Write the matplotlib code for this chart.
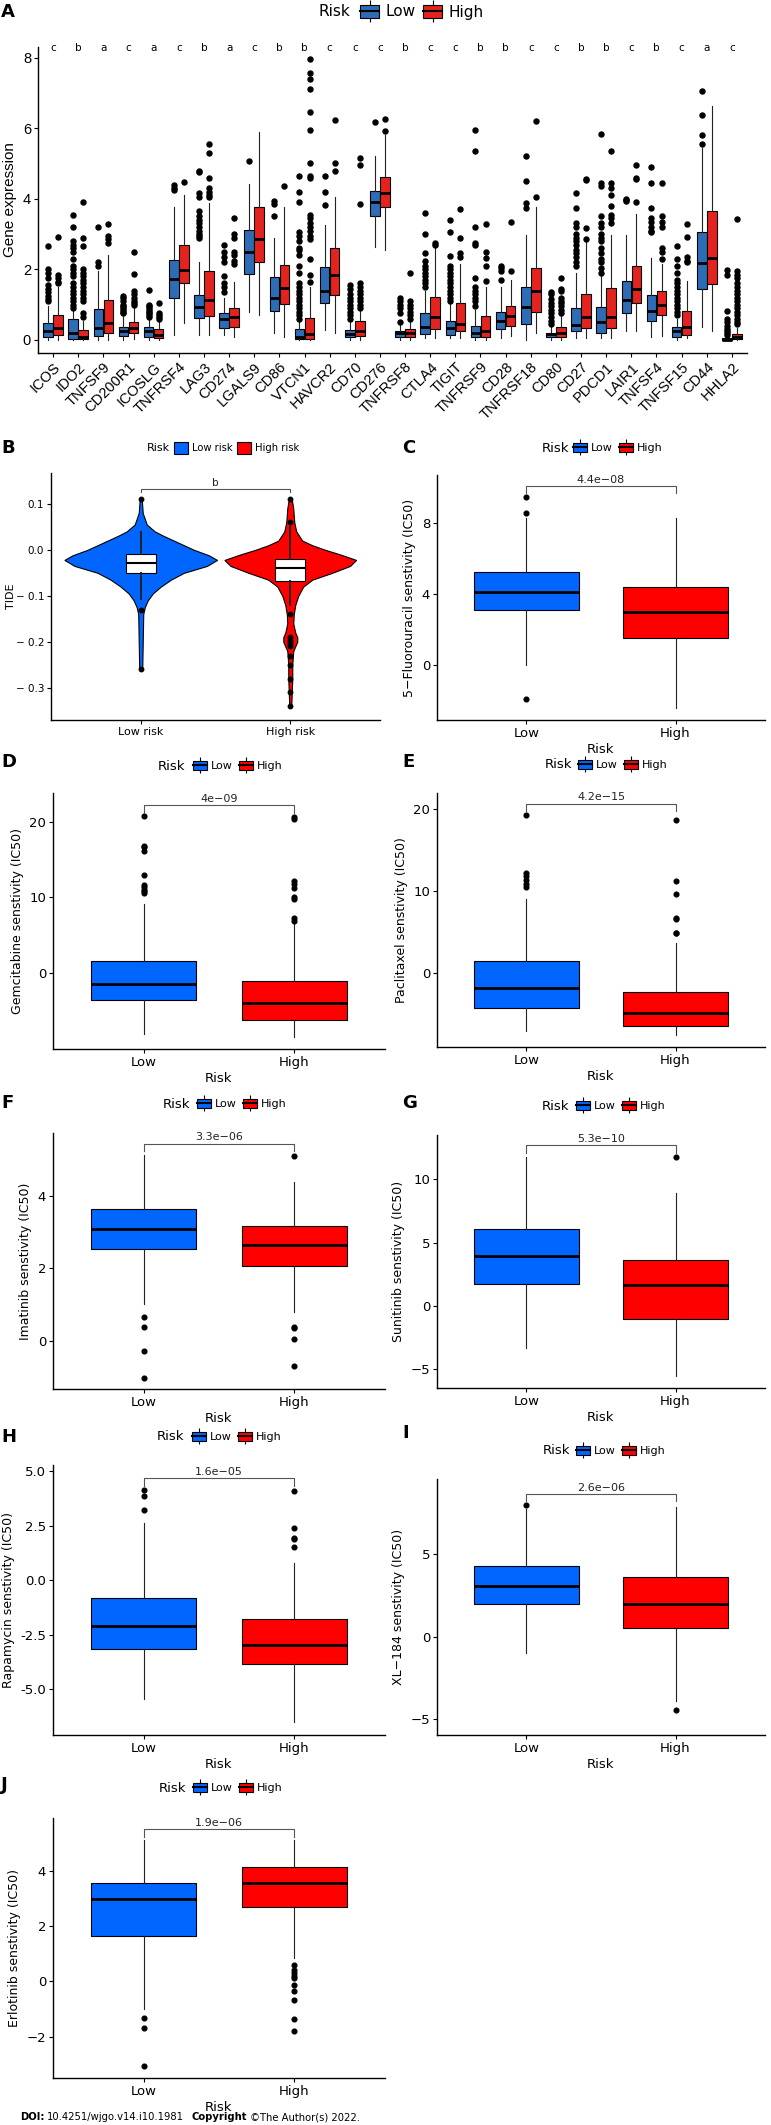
import matplotlib
matplotlib.use("Agg")
import matplotlib.pyplot as plt
from matplotlib.patches import Patch
from matplotlib.lines import Line2D
from matplotlib.text import Annotation
import matplotlib.transforms as mtransforms

plt.rcParams['font.family'] = ['DejaVu Sans']

W, H = 771, 2125

# ---------------- panel A: checkpoint gene expression ----------------
genes = ['ICOS', 'IDO2', 'TNFSF9', 'CD200R1', 'ICOSLG', 'TNFRSF4', 'LAG3', 'CD274',
         'LGALS9', 'CD86', 'VTCN1', 'HAVCR2', 'CD70', 'CD276', 'TNFRSF8', 'CTLA4',
         'TIGIT', 'TNFRSF9', 'CD28', 'TNFRSF18', 'CD80', 'CD27', 'PDCD1', 'LAIR1',
         'TNFSF4', 'TNFSF15', 'CD44', 'HHLA2']
sig_letters = ['c', 'b', 'a', 'c', 'a', 'c', 'b', 'a', 'c', 'b', 'b', 'c', 'c', 'c',
               'b', 'c', 'c', 'b', 'b', 'c', 'c', 'b', 'b', 'c', 'b', 'c', 'a', 'c']

# [lower whisker, q1, median, q3, upper whisker]
a_low = [
    [0, 0.08, 0.24, 0.48, 0.95], [0, 0.02, 0.19, 0.59, 0.85], [0, 0.11, 0.33, 0.87, 1.95],
    [0, 0.11, 0.24, 0.38, 0.7], [0, 0.08, 0.24, 0.38, 0.6], [0.14, 1.2, 1.72, 2.27, 3.78],
    [0.14, 0.61, 0.94, 1.27, 2.22], [0.14, 0.33, 0.59, 0.76, 1.2], [0.8, 1.86, 2.48, 3.12, 4.41],
    [0.21, 0.83, 1.2, 1.77, 2.9], [0, 0.02, 0.08, 0.3, 0.55], [0.28, 1.04, 1.4, 2.08, 3.26],
    [0, 0.08, 0.17, 0.28, 0.5], [2.64, 3.52, 3.9, 4.23, 5.21], [0, 0.08, 0.19, 0.24, 0.45],
    [0.05, 0.17, 0.38, 0.76, 1.4], [0.05, 0.14, 0.33, 0.54, 1.05], [0, 0.08, 0.19, 0.4, 0.85],
    [0.05, 0.3, 0.55, 0.8, 1.49], [0, 0.45, 0.94, 1.51, 2.97], [0, 0.08, 0.16, 0.21, 0.4],
    [0.05, 0.24, 0.42, 0.9, 1.89], [0.05, 0.21, 0.52, 0.93, 1.8], [0.26, 0.77, 1.13, 1.67, 2.97],
    [0.09, 0.54, 0.83, 1.27, 2.33], [0, 0.08, 0.24, 0.38, 0.6], [0.36, 1.44, 2.17, 3.07, 5.43],
    [0, 0, 0.01, 0.05, 0.1]]
a_high = [
    [0, 0.14, 0.35, 0.72, 1.5], [0, 0.02, 0.09, 0.28, 0.55], [0, 0.21, 0.47, 1.13, 2.4],
    [0.02, 0.21, 0.33, 0.5, 0.9], [0, 0.05, 0.14, 0.3, 0.55], [0.47, 1.62, 1.98, 2.69, 4.11],
    [0.14, 0.68, 1.13, 1.96, 3.87], [0.09, 0.38, 0.66, 0.9, 1.63], [0.7, 2.22, 2.86, 3.78, 5.88],
    [0.09, 1.02, 1.46, 2.12, 3.76], [0, 0.02, 0.17, 0.63, 1.5], [0.2, 1.27, 1.84, 2.6, 4.04],
    [0, 0.11, 0.26, 0.55, 0.85], [2.55, 3.76, 4.15, 4.61, 5.81], [0, 0.09, 0.21, 0.31, 0.5],
    [0.05, 0.3, 0.66, 1.23, 2.6], [0.05, 0.24, 0.44, 1.04, 2.15], [0, 0.09, 0.26, 0.68, 1.49],
    [0.1, 0.4, 0.69, 0.96, 1.7], [0.19, 0.78, 1.4, 2.03, 3.76], [0, 0.09, 0.21, 0.36, 0.7],
    [0.05, 0.33, 0.66, 1.3, 2.83], [0.05, 0.33, 0.66, 1.46, 2.97], [0.24, 1.04, 1.44, 2.1, 3.56],
    [0.1, 0.71, 0.99, 1.4, 2.15], [0.05, 0.14, 0.38, 0.83, 1.67], [0.24, 1.58, 2.33, 3.64, 6.64],
    [0, 0.02, 0.09, 0.17, 0.35]]
a_low_out = [
    [1.1, 1.15, 1.25, 1.35, 1.45, 1.55, 1.75, 1.9, 2.0, 2.65],
    [0.9, 1.0, 1.1, 1.2, 1.3, 1.4, 1.5, 1.6, 1.8, 1.9, 2.0, 2.1, 2.3, 2.5, 2.6, 2.7, 2.8, 3.2, 3.55],
    [2.1, 2.2, 3.2],
    [0.75, 0.8, 0.85, 0.9, 0.95, 1.0, 1.1, 1.2, 1.25],
    [0.65, 0.7, 0.75, 0.8, 0.85, 0.9, 0.95, 1.0, 1.42],
    [4.25, 4.3, 4.4],
    [2.9, 2.95, 3.0, 3.1, 3.2, 3.3, 3.4, 3.5, 3.65, 4.05, 4.15, 4.75, 4.8],
    [1.35, 1.5, 1.6, 1.8, 2.2, 2.35, 2.5, 2.7],
    [5.07],
    [3.5, 3.85, 3.95],
    [0.6, 0.7, 0.8, 0.9, 1.0, 1.1, 1.2, 1.3, 1.4, 1.5, 1.6, 1.9, 2.1, 2.4, 2.55, 2.6, 2.8, 2.95,
     3.05, 3.9, 4.2, 4.65],
    [3.82, 4.2, 4.65],
    [0.6, 0.7, 0.8, 0.9, 1.0, 1.1, 1.2, 1.3, 1.45, 1.55],
    [6.17],
    [0.52, 0.76, 0.9, 1.0, 1.1, 1.18],
    [1.5, 1.6, 1.7, 1.8, 1.9, 2.0, 2.1, 2.25, 2.45, 3.0, 3.6],
    [1.1, 1.2, 1.3, 1.4, 1.5, 1.6, 1.7, 1.8, 1.9, 2.0, 2.1, 2.38, 3.05, 3.4],
    [0.97, 1.1, 1.2, 1.3, 1.4, 1.5, 1.75, 2.7, 2.74, 3.21, 5.35, 5.95],
    [1.7, 1.95, 2.05, 2.1],
    [3.73, 3.89, 4.5, 5.22],
    [0.45, 0.55, 0.65, 0.75, 0.85, 0.95, 1.05, 1.15, 1.3, 1.37],
    [2.1, 2.2, 2.35, 2.45, 2.55, 2.7, 2.8, 2.9, 3.0, 3.2, 3.3, 3.75, 4.15],
    [1.9, 2.05, 2.2, 2.3, 2.45, 2.6, 2.8, 2.9, 3.0, 3.2, 3.3, 3.5, 4.35, 4.46, 5.84],
    [3.95, 3.97, 4.0],
    [3.05, 3.1, 3.2, 3.35, 3.45, 3.75, 4.44, 4.91],
    [0.7, 0.8, 0.9, 1.0, 1.1, 1.2, 1.3, 1.4, 1.5, 1.6, 1.7, 1.9, 2.1, 2.3, 2.66],
    [5.55, 5.81, 6.37, 7.06],
    [0.15, 0.2, 0.25, 0.3, 0.4, 0.5, 0.6, 0.83, 1.85, 1.98]]
a_high_out = [
    [1.6, 1.65, 1.75, 1.85, 2.93],
    [0.65, 0.75, 1.1, 1.2, 1.3, 1.4, 1.5, 1.6, 1.7, 1.8, 1.9, 2.0, 2.65, 2.9, 3.92],
    [2.75, 2.85, 2.95, 3.28],
    [1.0, 1.05, 1.1, 1.2, 1.3, 1.4, 1.87, 2.5],
    [0.6, 0.65, 0.7, 0.75, 1.04],
    [4.48],
    [4.05, 4.1, 4.2, 4.3, 4.6, 5.3, 5.55],
    [2.15, 2.25, 2.4, 2.5, 2.9, 3.0, 3.45],
    [],
    [4.35],
    [1.65, 1.85, 2.3, 2.85, 2.95, 3.1, 3.2, 3.3, 3.45, 3.55, 4.6, 4.65, 5.0, 5.95, 6.45, 7.1,
     7.4, 7.55, 7.95],
    [4.8, 5.0, 6.23],
    [0.9, 1.0, 1.1, 1.2, 1.3, 1.4, 1.5, 1.62, 3.85, 4.95, 5.15],
    [5.92, 6.25],
    [0.6, 0.7, 0.8, 0.9, 1.0, 1.1, 1.91],
    [2.7, 2.75],
    [2.36, 2.45, 2.9, 3.7],
    [1.67, 2.1, 2.31, 2.5, 3.29],
    [1.94, 3.35],
    [4.06, 6.19],
    [0.75, 0.85, 0.95, 1.05, 1.1, 1.2, 1.4, 1.45, 1.75],
    [2.86, 3.18, 4.53, 4.55],
    [3.3, 3.45, 3.55, 3.8, 4.1, 4.3, 4.46, 5.35],
    [3.9, 4.55, 4.6, 4.96],
    [2.3, 2.5, 2.6, 3.21, 3.35, 3.51, 4.44],
    [2.2, 2.25, 2.36, 2.93, 3.29],
    [],
    [0.45, 0.5, 0.6, 0.7, 0.8, 0.9, 1.0, 1.1, 1.2, 1.3, 1.4, 1.5, 1.6, 1.75, 1.85, 1.95, 3.43]]

# ---------------- panel B: TIDE violins ----------------
tide_groups = ['Low risk', 'High risk']
tide_yticks = [-0.3, -0.2, -0.1, 0.0, 0.1]
tide_yticklabels = ['\u2212 0.3', '\u2212 0.2', '\u2212 0.1', '0.0', '0.1']
tide_low_y = [0.11, 0.08, 0.055, 0.04, 0.03, 0.015, 0.0, -0.012, -0.022, -0.035, -0.05,
              -0.065, -0.08, -0.095, -0.11, -0.125, -0.14, -0.2, -0.26]
tide_low_dens = [1, 2, 6, 14, 23, 38, 53, 68, 76, 66, 43, 30, 20, 12, 7, 4, 2.5, 2, 1.5]
tide_high_y = [0.11, 0.09, 0.06, 0.04, 0.02, 0.01, 0.0, -0.01, -0.022, -0.035, -0.05, -0.065,
               -0.08, -0.1, -0.12, -0.14, -0.16, -0.18, -0.19, -0.2, -0.21, -0.22, -0.25,
               -0.28, -0.31, -0.34]
tide_high_dens = [1.5, 3, 4, 6, 12, 22, 35, 50, 66, 60, 42, 22, 13, 8, 5, 3.5, 3, 5, 7, 7, 5,
                  3, 2, 2, 1.5, 1]
tide_low_box = [-0.108, -0.05, -0.028, -0.009, 0.039]
tide_low_out = [0.11, -0.13, -0.26]
tide_high_box = [-0.12, -0.067, -0.04, -0.02, 0.05]
tide_high_out = [0.11, 0.06, -0.14, -0.19, -0.195, -0.2, -0.205, -0.21, -0.23, -0.25, -0.28,
                 -0.31, -0.34]
tide_sig = 'b'

# ---------------- panels C-J: drug sensitivity ----------------
risk_groups = ['Low', 'High']

fluorouracil_low = [0.0, 3.1, 4.1, 5.25, 8.3]
fluorouracil_low_out = [9.46, 8.56, -1.9]
fluorouracil_high = [-2.4, 1.5, 3.0, 4.4, 8.3]
fluorouracil_high_out = []

gemcitabine_low = [-8.1, -3.6, -1.5, 1.6, 9.1]
gemcitabine_low_out = [20.7, 16.8, 16.6, 16.1, 12.9, 11.6, 11.3, 11.0, 10.8, 10.5]
gemcitabine_high = [-8.5, -6.2, -4.0, -1.06, 6.6]
gemcitabine_high_out = [20.6, 20.4, 12.2, 11.7, 11.2, 10.0, 9.7, 7.2, 6.9]

paclitaxel_low = [-7.1, -4.3, -1.9, 1.47, 9.0]
paclitaxel_low_out = [19.3, 12.2, 11.8, 11.4, 10.9, 10.5]
paclitaxel_high = [-7.6, -6.5, -4.9, -2.4, 3.6]
paclitaxel_high_out = [18.7, 11.2, 9.6, 6.7, 6.6, 4.9, 4.8]

imatinib_low = [1.03, 2.55, 3.1, 3.64, 5.13]
imatinib_low_out = [0.65, 0.37, -0.28, -1.02]
imatinib_high = [0.8, 2.07, 2.66, 3.17, 4.39]
imatinib_high_out = [5.1, 0.39, 0.35, 0.04, -0.69]

sunitinib_low = [-3.34, 1.7, 3.9, 6.08, 11.8]
sunitinib_low_out = []
sunitinib_high = [-5.58, -1.05, 1.66, 3.63, 8.9]
sunitinib_high_out = [11.8]

rapamycin_low = [-5.45, -3.16, -2.09, -0.8, 2.63]
rapamycin_low_out = [4.13, 3.85, 3.2]
rapamycin_high = [-6.5, -3.85, -2.96, -1.8, 0.78]
rapamycin_high_out = [4.1, 2.37, 1.95, 1.9, 1.5]

xl184_low = [-1.0, 2.0, 3.05, 4.3, 7.8]
xl184_low_out = [8.0]
xl184_high = [-3.9, 0.5, 2.0, 3.6, 7.9]
xl184_high_out = [-4.5]

erlotinib_low = [-1.01, 1.65, 2.96, 3.55, 5.09]
erlotinib_low_out = [-1.33, -1.70, -3.08]
erlotinib_high = [0.84, 2.7, 3.55, 4.13, 5.09]
erlotinib_high_out = [0.57, 0.4, 0.3, 0.2, 0.1, -0.12, -0.34, -0.68, -1.36, -1.79]

pvals = ['4.4e\u221208', '4e\u221209', '4.2e\u221215', '3.3e\u221206', '5.3e\u221210',
         '1.6e\u221205', '2.6e\u221206', '1.9e\u221206']

footer_parts = ['DOI:', '10.4251/wjgo.v14.i10.1981', 'Copyright', '\u00a9The Author(s) 2022.']

A_LOW, A_HIGH = '#2F6CB6', '#E5231E'
LOW_C, HIGH_C = '#0066FF', '#FF0000'

fig = plt.figure(figsize=(W / 100, H / 100), dpi=100)


def fx(x):
    return x / W


def fy(y):
    return 1 - y / H


def add_ax(l, t, r, b):
    ax = fig.add_axes([l / W, 1 - b / H, (r - l) / W, (b - t) / H])
    ax.spines['top'].set_visible(False)
    ax.spines['right'].set_visible(False)
    ax.spines['left'].set_linewidth(1.0)
    ax.spines['bottom'].set_linewidth(1.0)
    ax.tick_params(length=3, width=0.8, colors='black', pad=2)
    return ax


def stats(s, out):
    return dict(whislo=s[0], q1=s[1], med=s[2], q3=s[3], whishi=s[4], fliers=out)


def draw_boxes(ax, st, pos, colors, width, ms, whisk_lw=0.8, med_lw=2.0):
    bp = ax.bxp(st, positions=pos, widths=width, patch_artist=True, showcaps=False,
                boxprops=dict(edgecolor='black', linewidth=0.8),
                medianprops=dict(color='black', linewidth=med_lw, solid_capstyle='butt'),
                whiskerprops=dict(color='#222222', linewidth=whisk_lw),
                flierprops=dict(marker='o', markerfacecolor='black', markeredgecolor='black',
                                markersize=ms, linestyle='none'))
    for b, c in zip(bp['boxes'], colors):
        b.set_facecolor(c)
    return bp


def box_key(c, stub):
    return (Line2D([], [], marker='|', color='black', linestyle='none', markersize=stub,
                   markeredgewidth=0.8),
            Patch(facecolor=c, edgecolor='black', linewidth=0.8),
            Line2D([], [], color='black', linewidth=1.5))


def risk_legend(x_title, x_keys, y, labels, colors, tsize, lsize, square=False):
    fig.text(fx(x_title), fy(y), 'Risk', fontsize=tsize, va='center', ha='left')
    if square:
        handles = [Patch(facecolor=c, edgecolor='black', linewidth=0.8) for c in colors]
        hl, hh = 1.35, 1.35
    else:
        handles = [box_key(c, lsize * 1.45) for c in colors]
        hl, hh = 1.25, 0.95
    fig.legend(handles, labels, loc='center left', bbox_to_anchor=(fx(x_keys), fy(y)),
               ncol=2, frameon=False, borderpad=0, borderaxespad=0, fontsize=lsize,
               handlelength=hl, handleheight=hh, handletextpad=0.4, columnspacing=0.5)


def panel_letter(x, y, s):
    fig.text(fx(x), fy(y), s, fontsize=13, fontweight='bold', va='center', ha='left')


def bracket(ax, y, drop, label, size):
    ax.plot([1, 1, 2, 2], [y - drop, y, y, y - drop], color='#555555', lw=0.8)
    ax.text(1.5, y + drop * 0.15, label, ha='center', va='bottom', fontsize=size,
            color='#222222')


# ---------------- A ----------------
panel_letter(1, 12, 'A')
risk_legend(318, 360, 12, risk_groups, [A_LOW, A_HIGH], 11, 11)
axA = add_ax(38, 47, 747, 353)
pos = list(range(len(genes)))
draw_boxes(axA, [stats(s, o) for s, o in zip(a_low, a_low_out)], [p - 0.2 for p in pos],
           [A_LOW] * len(genes), 0.38, 3.6)
draw_boxes(axA, [stats(s, o) for s, o in zip(a_high, a_high_out)], [p + 0.2 for p in pos],
           [A_HIGH] * len(genes), 0.38, 3.6)
axA.set_xlim(-0.6, len(genes) - 0.4)
axA.set_ylim(-0.37, 8.3)
axA.set_yticks([0, 2, 4, 6, 8])
axA.set_xticks(pos)
axA.set_xticklabels(genes, rotation=45, ha='right', va='top', rotation_mode='anchor',
                    fontsize=10.5, family='Liberation Sans')
for t in axA.get_yticklabels():
    t.set_fontsize(10.5)
    t.set_family('Liberation Sans')
axA.set_ylabel('Gene expression', fontsize=11, family='Liberation Sans', labelpad=4)
trans = mtransforms.blended_transform_factory(axA.transData, axA.transAxes)
for p, s in zip(pos, sig_letters):
    axA.text(p, 0.997, s, transform=trans, ha='center', va='center', fontsize=7.5)

# ---------------- B ----------------
panel_letter(1, 448, 'B')
risk_legend(147, 174, 448, tide_groups, [LOW_C, HIGH_C], 8, 7.2, square=True)
axB = add_ax(51, 473, 380, 720)
vps = [dict(coords=tide_low_y, vals=tide_low_dens, mean=0, median=0,
            min=min(tide_low_y), max=max(tide_low_y)),
       dict(coords=tide_high_y, vals=tide_high_dens, mean=0, median=0,
            min=min(tide_high_y), max=max(tide_high_y))]
vio_low = axB.violin(vps[:1], positions=[1], widths=1.02, showextrema=False)
vio_high = axB.violin(vps[1:], positions=[2], widths=0.88, showextrema=False)
for body, c in [(vio_low['bodies'][0], LOW_C), (vio_high['bodies'][0], HIGH_C)]:
    body.set_facecolor(c)
    body.set_edgecolor('black')
    body.set_linewidth(0.8)
    body.set_alpha(1)
draw_boxes(axB, [stats(tide_low_box, tide_low_out), stats(tide_high_box, tide_high_out)],
           [1, 2], ['white', 'white'], 0.2, 3.2, whisk_lw=1.4, med_lw=1.5)
axB.set_xlim(0.4, 2.6)
axB.set_ylim(-0.37, 0.167)
axB.set_yticks(tide_yticks)
axB.set_yticklabels(tide_yticklabels, fontsize=7.5)
axB.set_xticks([1, 2])
axB.set_xticklabels(tide_groups, fontsize=8)
axB.set_ylabel('TIDE', fontsize=8)
axB.yaxis.set_label_coords(-0.105, 0.5)
bracket(axB, 0.133, 0.008, tide_sig, 7.5)


# ---------------- C-J ----------------
def drug_panel(rect, low, low_out, high, high_out, ylabel, pval, ylim, yticks, ytl=None):
    ax = add_ax(*rect)
    draw_boxes(ax, [stats(low, low_out), stats(high, high_out)], [1, 2], [LOW_C, HIGH_C],
               0.7, 3.4)
    ax.set_xlim(0.4, 2.6)
    ax.set_ylim(*ylim)
    ax.set_yticks(yticks)
    if ytl is not None:
        ax.set_yticklabels(ytl)
    ax.set_xticks([1, 2])
    ax.set_xticklabels(risk_groups)
    ax.tick_params(labelsize=9.5)
    ax.set_xlabel('Risk', fontsize=9.5, labelpad=2)
    ax.set_ylabel(ylabel, fontsize=9, labelpad=4)
    rng = ylim[1] - ylim[0]
    top = max([low[4], high[4]] + low_out + high_out)
    bracket(ax, top + 0.045 * rng, 0.03 * rng, pval, 8)
    return ax


LEFT = (53, 385)
RIGHT = (437, 765)

panel_letter(402, 448, 'C')
risk_legend(542, 573, 448, risk_groups, [LOW_C, HIGH_C], 9.5, 8)
drug_panel((RIGHT[0], 475, RIGHT[1], 720), fluorouracil_low, fluorouracil_low_out,
           fluorouracil_high, fluorouracil_high_out, '5\u2212Fluorouracil senstivity (IC50)',
           pvals[0], (-3.1, 10.7), [0, 4, 8])

panel_letter(1, 762, 'D')
risk_legend(158, 193, 766, risk_groups, [LOW_C, HIGH_C], 9.5, 8)
drug_panel((LEFT[0], 793, LEFT[1], 1049), gemcitabine_low, gemcitabine_low_out,
           gemcitabine_high, gemcitabine_high_out, 'Gemcitabine senstivity (IC50)',
           pvals[1], (-10.1, 23.8), [0, 10, 20])

panel_letter(402, 762, 'E')
risk_legend(545, 578, 765, risk_groups, [LOW_C, HIGH_C], 9.5, 8)
drug_panel((RIGHT[0], 793, RIGHT[1], 1047), paclitaxel_low, paclitaxel_low_out,
           paclitaxel_high, paclitaxel_high_out, 'Paclitaxel senstivity (IC50)',
           pvals[2], (-9.1, 22.0), [0, 10, 20])

panel_letter(1, 1103, 'F')
risk_legend(163, 197, 1104, risk_groups, [LOW_C, HIGH_C], 9.5, 8)
drug_panel((LEFT[0], 1133, LEFT[1], 1389), imatinib_low, imatinib_low_out,
           imatinib_high, imatinib_high_out, 'Imatinib senstivity (IC50)',
           pvals[3], (-1.33, 5.74), [0, 2, 4])

panel_letter(402, 1103, 'G')
risk_legend(542, 576, 1106, risk_groups, [LOW_C, HIGH_C], 9.5, 8)
drug_panel((RIGHT[0], 1135, RIGHT[1], 1388), sunitinib_low, sunitinib_low_out,
           sunitinib_high, sunitinib_high_out, 'Sunitinib senstivity (IC50)',
           pvals[4], (-6.5, 13.5), [-5, 0, 5, 10])

panel_letter(1, 1437, 'H')
risk_legend(157, 192, 1437, risk_groups, [LOW_C, HIGH_C], 9.5, 8)
drug_panel((LEFT[0], 1465, LEFT[1], 1735), rapamycin_low, rapamycin_low_out,
           rapamycin_high, rapamycin_high_out, 'Rapamycin senstivity (IC50)',
           pvals[5], (-7.1, 5.28), [-5, -2.5, 0, 2.5, 5],
           ['-5.0', '-2.5', '0.0', '2.5', '5.0'])

panel_letter(402, 1433, 'I')
risk_legend(543, 576, 1451, risk_groups, [LOW_C, HIGH_C], 9.5, 8)
drug_panel((RIGHT[0], 1479, RIGHT[1], 1735), xl184_low, xl184_low_out,
           xl184_high, xl184_high_out, 'XL\u2212184 senstivity (IC50)',
           pvals[6], (-6.0, 9.6), [-5, 0, 5])

panel_letter(1, 1785, 'J')
risk_legend(159, 193, 1788, risk_groups, [LOW_C, HIGH_C], 9.5, 8)
drug_panel((LEFT[0], 1818, LEFT[1], 2078), erlotinib_low, erlotinib_low_out,
           erlotinib_high, erlotinib_high_out, 'Erlotinib senstivity (IC50)',
           pvals[7], (-3.5, 5.9), [-2, 0, 2, 4])

# footer: each piece placed just right of the previous one
prev = fig.text(fx(20), fy(2117), footer_parts[0], fontsize=7.2, fontweight='bold',
                va='center')
for part, bold, gap in zip(footer_parts[1:], [False, True, False], [2, 5, 2]):
    ann = Annotation(part, xy=(1, 0.5), xycoords=prev, xytext=(gap, 0),
                     textcoords='offset points', va='center', ha='left', fontsize=7.2,
                     fontweight='bold' if bold else 'normal')
    fig.add_artist(ann)
    prev = ann

fig.savefig('out.png', dpi=100)
